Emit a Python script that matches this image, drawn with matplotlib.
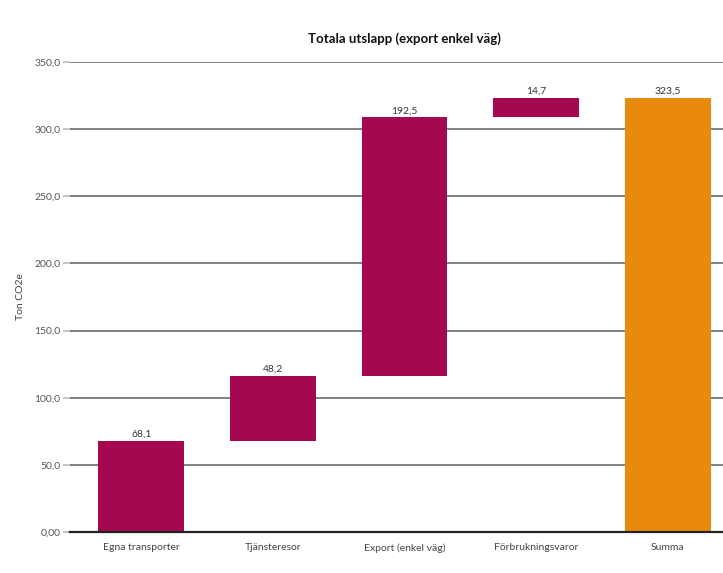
import matplotlib
matplotlib.use("Agg")
import matplotlib.pyplot as plt
from matplotlib.ticker import FuncFormatter

# emission steps (ton CO2e)
categories = ["Egna transporter", "Tjänsteresor", "Export (enkel väg)", "Förbrukningsvaror", "Summa"]
steps = [68.1, 48.2, 192.5, 14.7]
total = sum(steps)
yticks = [0, 50, 100, 150, 200, 250, 300, 350]

plt.rcParams['font.family'] = ['Lato', 'DejaVu Sans']

fig = plt.figure(figsize=(7.23, 5.73), dpi=100)
ax = fig.add_axes([0.097, 0.0716, 0.925, 0.820])

step_color = "#a4094f"
sum_color = "#ea8a0c"

# floating bars for each step, full bar for the total
bottoms = []
running = 0
for v in steps:
    bottoms.append(running)
    running += v
heights = steps + [total]
bottoms = bottoms + [0]
colors = [step_color] * len(steps) + [sum_color]
x = list(range(len(categories)))
ax.bar(x, heights, bottom=bottoms, width=0.65, color=colors, zorder=3)

for xi, b, h in zip(x, bottoms, heights):
    ax.text(xi, b + h + 1.5, f"{h:.1f}".replace(".", ","), ha="center", va="bottom",
            fontsize=7.5, color="#333333", zorder=4)

ax.set_xlim(-0.54, len(categories) - 0.46)
ax.set_ylim(0, 350)
ax.set_yticks(yticks)
ax.yaxis.set_major_formatter(FuncFormatter(
    lambda v, p: "0,00" if v == 0 else f"{v:.1f}".replace(".", ",")))
ax.set_xticks(x)
ax.set_xticklabels(categories)

ax.grid(axis="y", color="#808080", linewidth=1.4, zorder=0)
for s in ["left", "right", "top"]:
    ax.spines[s].set_visible(False)
ax.spines["bottom"].set_color("#222222")
ax.spines["bottom"].set_linewidth(1.6)
ax.spines["bottom"].set_zorder(4)

ax.tick_params(axis="y", length=5, width=1.2, color="#bbbbbb", labelsize=7.5,
               labelcolor="#555555", pad=2)
ax.tick_params(axis="x", length=0, labelsize=7.5, labelcolor="#444444", pad=8)

ax.set_ylabel("Ton CO2e", fontsize=7.5, color="#444444", labelpad=7)
ax.set_title("Totala utslapp (export enkel väg)", fontsize=9.5, fontweight="bold",
             color="#111111", pad=14)

fig.savefig("out.png", dpi=100)
